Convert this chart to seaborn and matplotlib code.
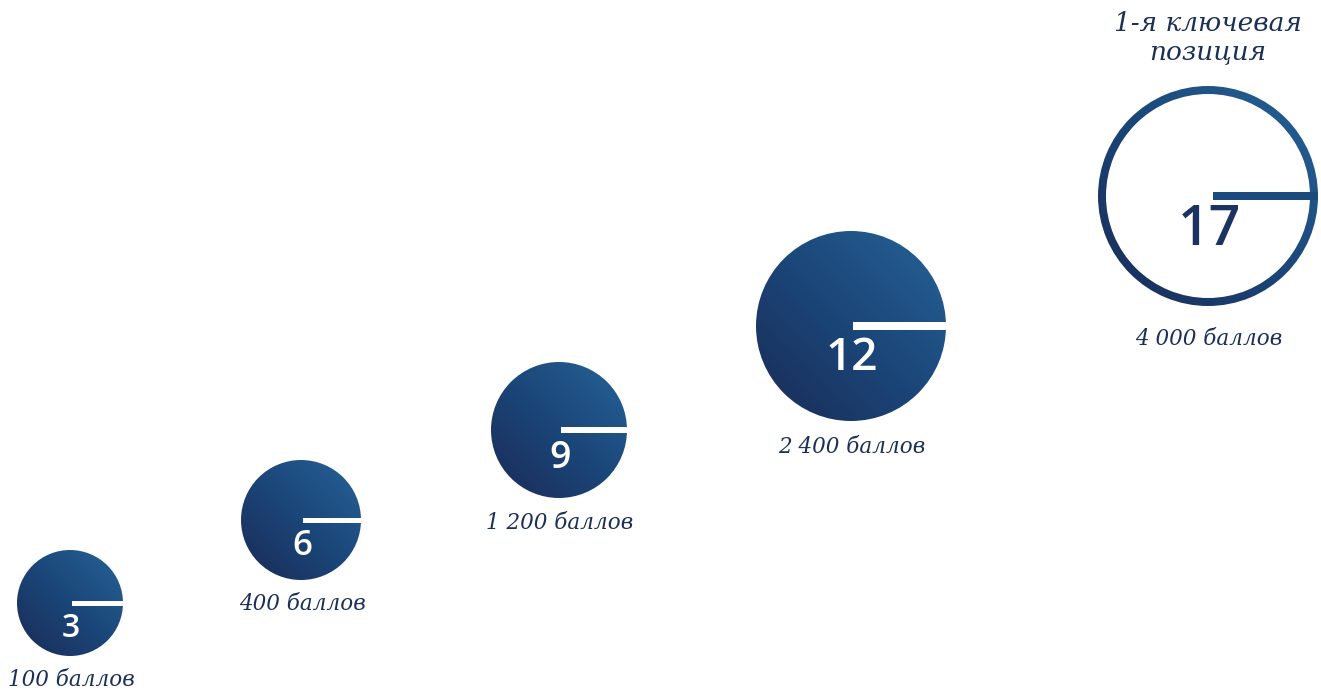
import matplotlib

matplotlib.use("Agg", force=True)
import matplotlib.pyplot as plt
import numpy as np
import seaborn as sns
from matplotlib.patches import Circle, Rectangle, Wedge

# data
LEVELS = [3, 6, 9, 12, 17]
SCORES = ["100 баллов", "400 баллов", "1 200 баллов", "2 400 баллов", "4 000 баллов"]
KEY_LABEL = "1-я ключевая\nпозиция"

# layout (pixel space, y down)
CENTER_X = [70, 301, 559, 851, 1208]
CENTER_Y = [603, 520, 430, 326, 196]
RADIUS = [53, 60, 68, 95, 110]
NUM_SIZE = [23, 25, 27, 33, 40]
BAR_W = [5, 5, 6, 8, 8]
LABEL_Y = [680, 604, 523, 447, 339]

TEXT_DARK = "#1c2f57"
GRAD = sns.blend_palette(["#1a3360", "#1b4679", "#235a8e"], as_cmap=True)


def gradient_fill(ax, cx, cy, r, clip):
    n = 200
    xs = np.linspace(-1, 1, n)
    xx, yy = np.meshgrid(xs, xs)
    t = (xx - yy) / (2 * np.sqrt(2)) + 0.5
    img = ax.imshow(t, cmap=GRAD, vmin=0, vmax=1, origin="upper",
                    extent=(cx - r, cx + r, cy + r, cy - r), interpolation="bilinear", zorder=2)
    img.set_clip_path(clip)


def main() -> None:
    sns.set_theme(style="white")
    plt.rcParams["font.family"] = ["Open Sans", "DejaVu Sans"]

    fig = plt.figure(figsize=(13.21, 6.89), dpi=100)
    ax = fig.add_axes([0, 0, 1, 1])
    ax.set_xlim(0, 1321)
    ax.set_ylim(689, 0)
    ax.set_aspect("equal")
    ax.axis("off")

    last = len(LEVELS) - 1
    for i, (lvl, score) in enumerate(zip(LEVELS, SCORES)):
        cx, cy, r = CENTER_X[i], CENTER_Y[i], RADIUS[i]
        if i < last:
            clip = Circle((cx, cy), r, transform=ax.transData, facecolor="none", edgecolor="none")
            ax.add_patch(clip)
            gradient_fill(ax, cx, cy, r, clip)
            bar = Rectangle((cx + 2, cy - BAR_W[i] / 2), r, BAR_W[i], facecolor="white",
                            edgecolor="none", zorder=3)
            ax.add_patch(bar)
            bar.set_clip_path(clip)
            num_color = "white"
        else:
            ring = Wedge((cx, cy), r, 0, 360, width=8, transform=ax.transData,
                         facecolor="none", edgecolor="none")
            ax.add_patch(ring)
            gradient_fill(ax, cx, cy, r, ring)
            ax.add_patch(Rectangle((cx + 5, cy - BAR_W[i] / 2), r - 5, BAR_W[i],
                                   facecolor="#1b4a7c", edgecolor="none", zorder=3))
            num_color = "#1b3361"
            ax.text(cx, 38, KEY_LABEL, ha="center", va="center", fontsize=19,
                    family=["DejaVu Serif"], style="italic", color=TEXT_DARK,
                    linespacing=1.15)

        ax.text(cx + 1, cy + 16 + 0.17 * r, str(lvl), ha="center", va="center",
                fontsize=NUM_SIZE[i], color=num_color, fontweight="semibold", zorder=4)
        ax.text(cx + 1, LABEL_Y[i], score, ha="center", va="center", fontsize=15.5,
                family=["DejaVu Serif"], style="italic", color=TEXT_DARK)

    fig.savefig("out.png", dpi=100, facecolor="white")
    plt.close(fig)


if __name__ == "__main__":
    main()
